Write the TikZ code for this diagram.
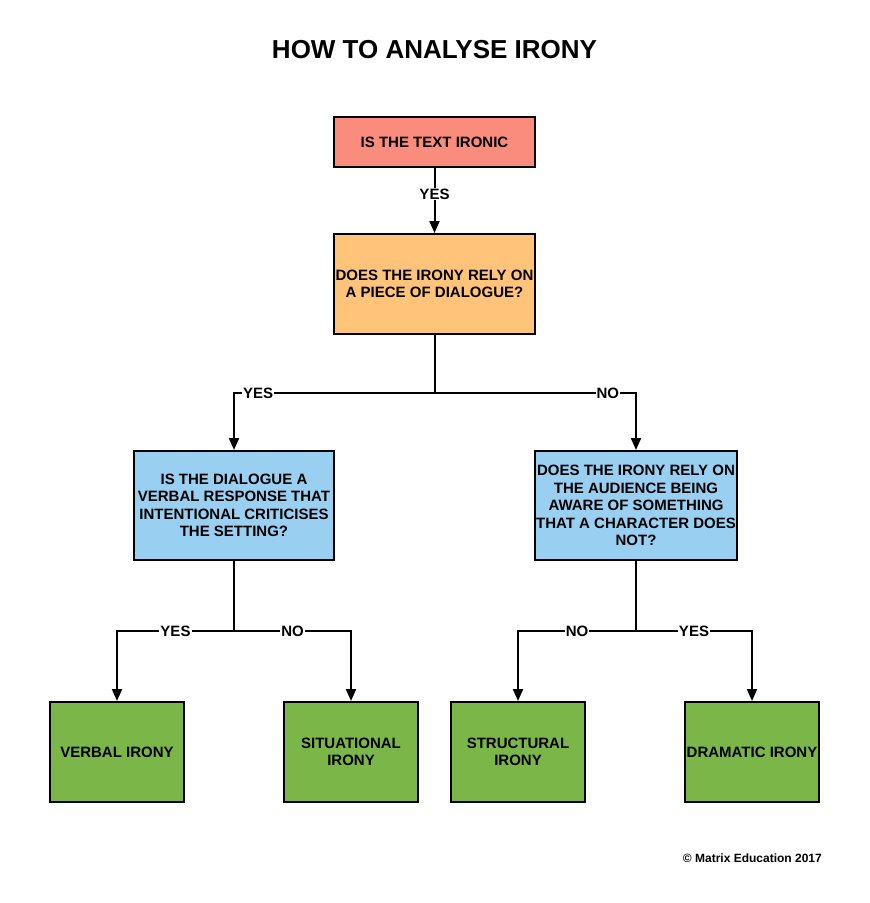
\documentclass[tikz,border=0pt]{standalone}
\usepackage{fontspec}
\setmainfont{Liberation Sans}
\usetikzlibrary{arrows.meta, positioning}

\definecolor{startred}{HTML}{FA8C7E}
\definecolor{dialorange}{HTML}{FFC47A}
\definecolor{askblue}{HTML}{99D0F2}
\definecolor{irongreen}{HTML}{7AB648}

\begin{document}
\begin{tikzpicture}[
  node distance=65pt,
  box/.style={rectangle, draw=black, line width=2pt, align=center,
              inner sep=1pt, minimum width=201pt,
              font=\fontsize{15}{17.5}\selectfont\bfseries},
  startbox/.style={box, fill=startred, minimum height=50pt},
  dialbox/.style={box, fill=dialorange, minimum height=100pt},
  askbox/.style={box, fill=askblue, minimum width=200pt, minimum height=109pt},
  endbox/.style={box, fill=irongreen, minimum width=134pt, minimum height=100pt},
  lbl/.style={fill=white, inner sep=1pt, font=\fontsize{15}{17.5}\selectfont\bfseries},
  link/.style={line width=2pt},
  arrow/.style={link, -{Triangle[length=12pt, width=10pt]}}
]
\useasboundingbox (0,0) rectangle (870pt,-903pt);

\node[font=\fontsize{26}{31}\selectfont\bfseries] (title) at (434.5pt,-50pt) {HOW TO ANALYSE IRONY};

\node[startbox] (q1) at (434.5pt,-142pt) {IS THE TEXT IRONIC};
\node[dialbox, below=of q1] (q2) {DOES THE IRONY RELY ON\\A PIECE OF DIALOGUE?};
\node[askbox, below=115pt of q2, xshift=-200.5pt] (q3) {%
  IS THE DIALOGUE A\\VERBAL RESPONSE THAT\\INTENTIONAL CRITICISES\\THE SETTING?};
\node[askbox, below=115pt of q2, xshift=201.5pt] (q4) {%
  DOES THE IRONY RELY ON\\THE AUDIENCE BEING\\AWARE OF SOMETHING\\THAT A CHARACTER DOES\\NOT?};

\node[endbox, below=140pt of q3, xshift=-117pt] (verbal) {VERBAL IRONY};
\node[endbox, below=140pt of q3, xshift=117pt] (situational) {SITUATIONAL\\IRONY};
\node[endbox, below=140pt of q4, xshift=-118pt] (structural) {STRUCTURAL\\IRONY};
\node[endbox, below=140pt of q4, xshift=116pt] (dramatic) {DRAMATIC IRONY};

\node[anchor=east, inner sep=0pt, font=\fontsize{12}{14}\selectfont\bfseries] (copy) at (822pt,-858pt) {\textcopyright{} Matrix Education 2017};

% split points
\coordinate (s2) at ([yshift=-58pt]q2.south);
\coordinate (s3) at ([yshift=-70pt]q3.south);
\coordinate (s4) at ([yshift=-70pt]q4.south);

\draw[arrow] (q1) -- node[lbl, pos=0.4] {YES} (q2);

\draw[link] (q2.south) -- (s2);
\draw[arrow] (s2) -| node[lbl, pos=0.44] {YES} (q3.north);
\draw[arrow] (s2) -| node[lbl, pos=0.43] {NO} (q4.north);

\draw[link] (q3.south) -- (s3);
\draw[arrow] (s3) -| node[lbl, pos=0.25] {YES} (verbal.north);
\draw[arrow] (s3) -| node[lbl, pos=0.25] {NO} (situational.north);

\draw[link] (q4.south) -- (s4);
\draw[arrow] (s4) -| node[lbl, pos=0.25] {NO} (structural.north);
\draw[arrow] (s4) -| node[lbl, pos=0.25] {YES} (dramatic.north);
\end{tikzpicture}
\end{document}
